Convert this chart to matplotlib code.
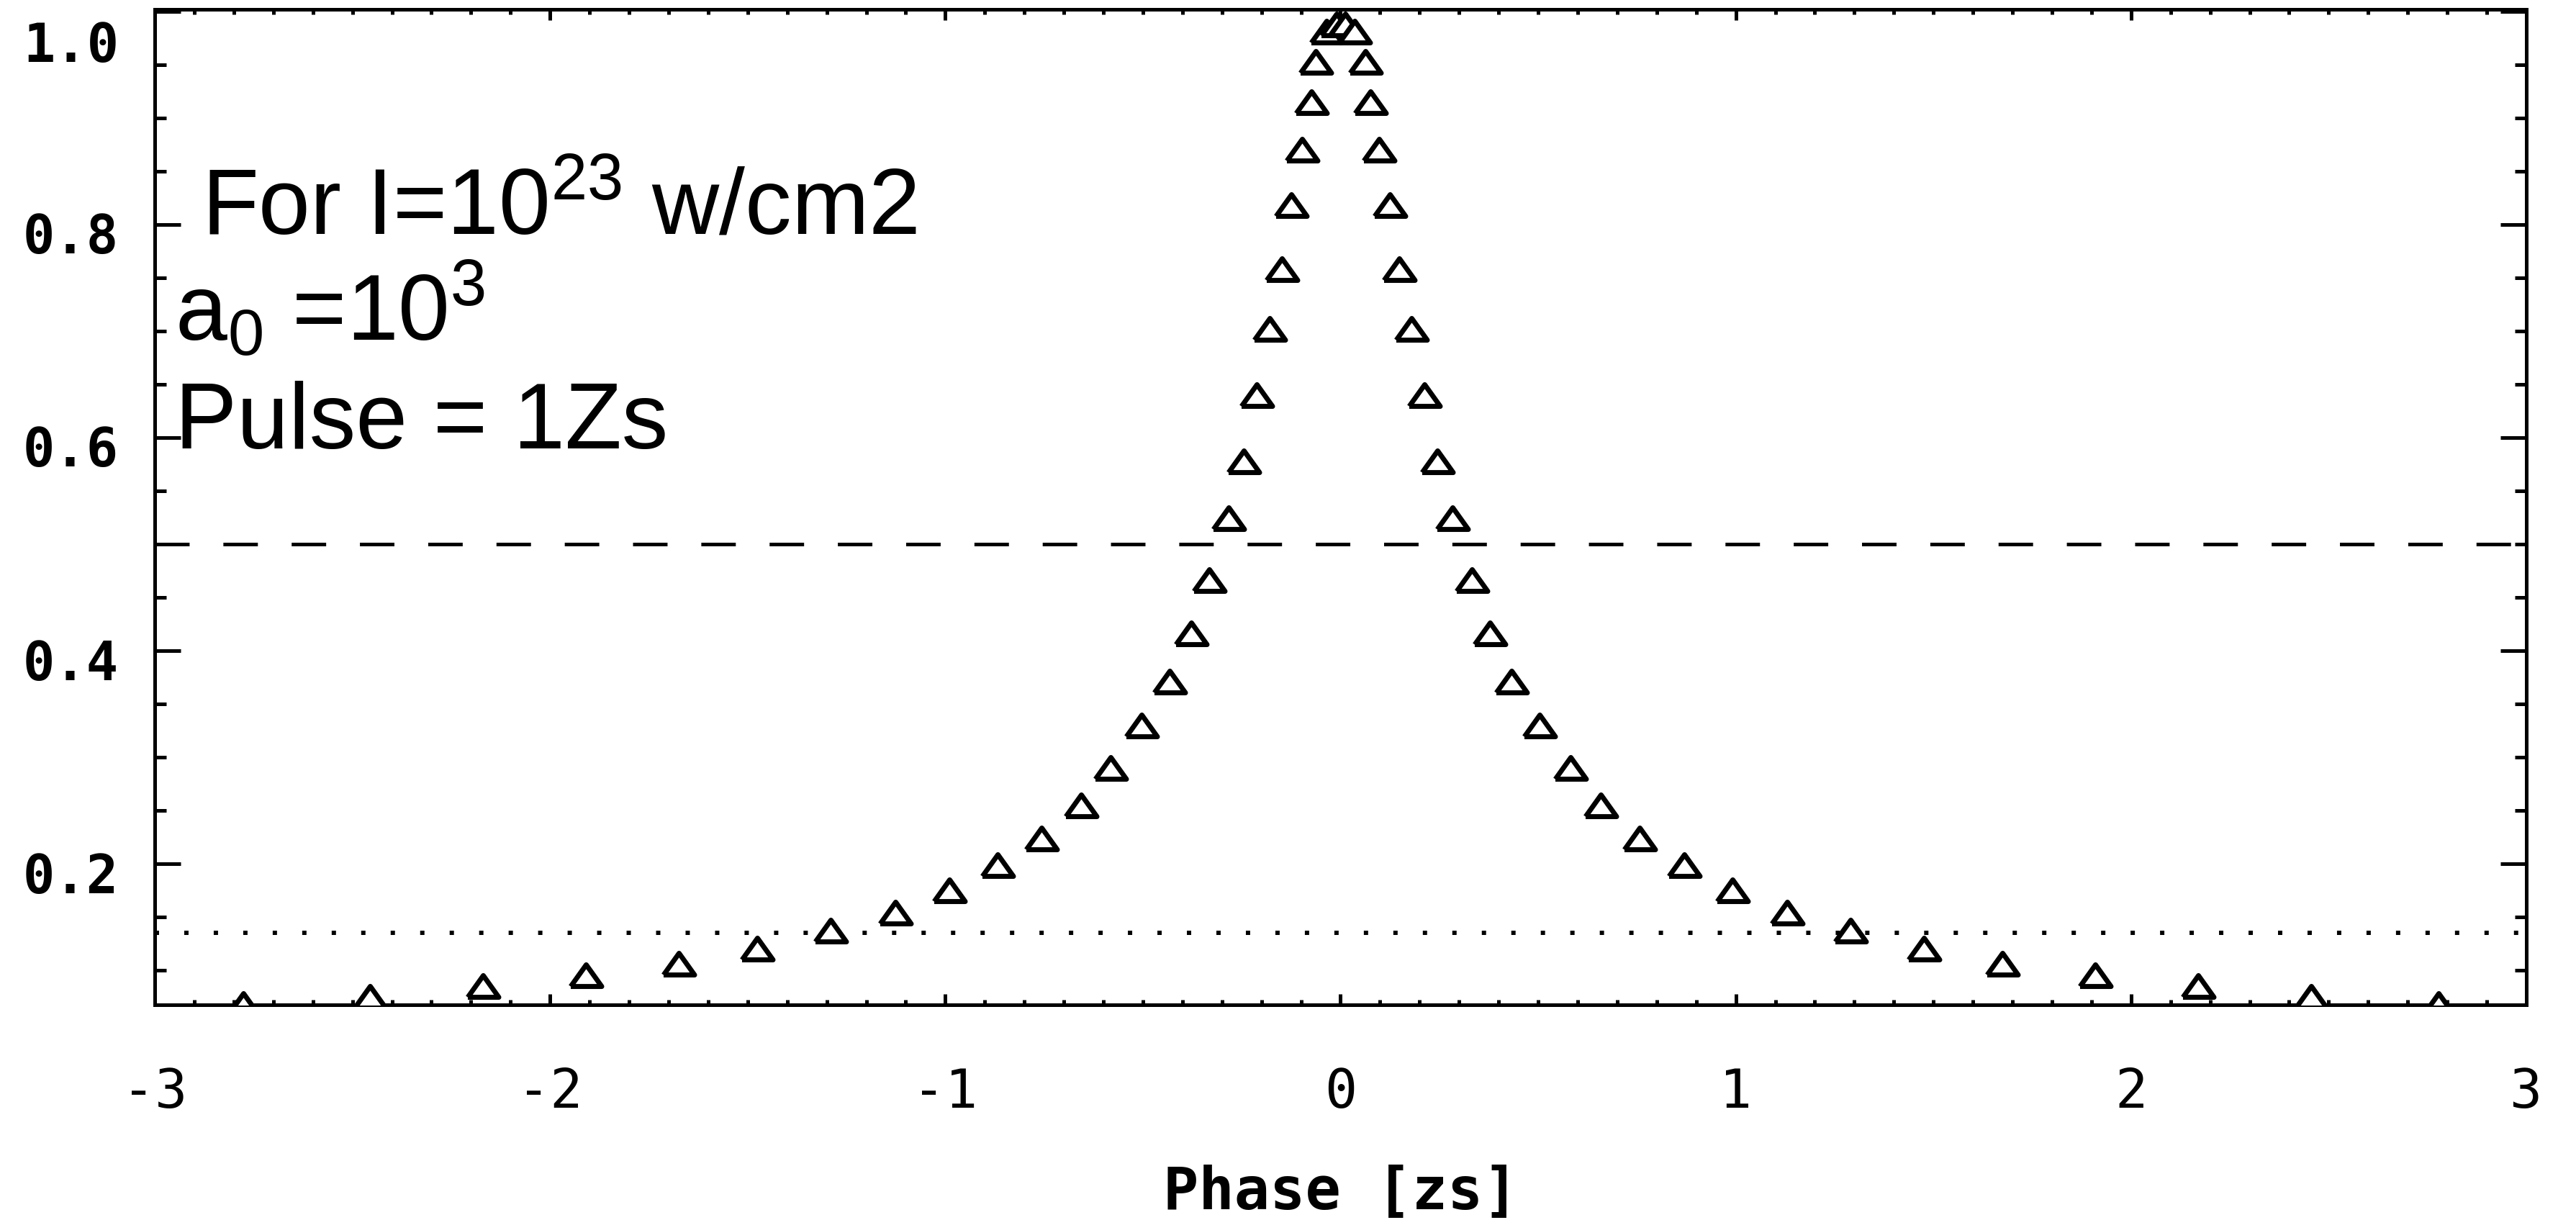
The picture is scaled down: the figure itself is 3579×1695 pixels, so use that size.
import matplotlib
matplotlib.use("Agg")
import matplotlib.pyplot as plt
from matplotlib.ticker import MultipleLocator
from matplotlib.transforms import ScaledTranslation

plt.rcParams['axes.unicode_minus'] = False
plt.rcParams['mathtext.default'] = 'regular'
plt.rcParams['lines.scale_dashes'] = False

# data (phase in zs, normalised intensity)
phase = [-2.776, -2.456, -2.170, -1.909, -1.674, -1.476, -1.290, -1.127,
         -0.990, -0.868, -0.757, -0.657, -0.582, -0.503, -0.432, -0.378,
         -0.332, -0.283, -0.245, -0.212, -0.179, -0.149, -0.124, -0.098,
         -0.074, -0.062, -0.036, -0.010,
         0.012, 0.036, 0.062, 0.075, 0.098, 0.124, 0.149, 0.179,
         0.212, 0.245, 0.283, 0.332, 0.378, 0.432, 0.503, 0.582,
         0.659, 0.757, 0.870, 0.991, 1.129, 1.290, 1.476, 1.674,
         1.909, 2.170, 2.456, 2.778]
intensity = [0.068, 0.075, 0.085, 0.095, 0.106, 0.120, 0.137, 0.154,
             0.175, 0.199, 0.224, 0.255, 0.290, 0.330, 0.371, 0.416,
             0.466, 0.524, 0.578, 0.640, 0.702, 0.758, 0.818, 0.870,
             0.915, 0.953, 0.981, 0.988,
             0.988, 0.981, 0.953, 0.915, 0.870, 0.818, 0.758, 0.702,
             0.640, 0.578, 0.524, 0.466, 0.416, 0.371, 0.330, 0.290,
             0.255, 0.224, 0.199, 0.175, 0.154, 0.137, 0.120, 0.106,
             0.095, 0.085, 0.075, 0.068]

half_max = 0.5
e2_level = 0.1353

xticks = [-3, -2, -1, 0, 1, 2, 3]
xtick_labels = ['-3', '-2', '-1', '0', '1', '2', '3']
yticks = [0.2, 0.4, 0.6, 0.8, 1.0]
ytick_labels = ['0.2', '0.4', '0.6', '0.8', '1.0']

W, H = 3579, 1695
fig = plt.figure(figsize=(W / 100, H / 100), dpi=100)
ax = fig.add_axes([215 / W, 299 / H, 3295 / W, 1383 / H])

# flat open triangle like the IDL symbol
tri = [(-1, -0.7), (1, -0.7), (0, 0.7), (-1, -0.7)]
ax.plot(phase, intensity, linestyle='none', marker=tri, ms=31,
        mfc='white', mec='black', mew=5, zorder=3)

ax.axhline(half_max, color='black', lw=3.6, linestyle=(0, (34.5, 33.8)), zorder=2)
ax.axhline(e2_level, color='black', lw=4.3, linestyle=(0, (4.3, 25.2)), zorder=2)

ax.set_xlim(-3, 3)
ax.set_ylim(0.0676, 1.002)

for s in ax.spines.values():
    s.set_linewidth(3.6)

ax.set_xticks(xticks)
ax.set_xticklabels(xtick_labels)
ax.set_yticks(yticks)
ax.set_yticklabels(ytick_labels)
ax.xaxis.set_minor_locator(MultipleLocator(0.1))
ax.yaxis.set_minor_locator(MultipleLocator(0.05))

ax.tick_params(which='both', direction='in', top=True, right=True, width=3.6)
ax.tick_params(axis='x', which='major', length=11, pad=62, labelsize=54)
ax.tick_params(axis='x', which='minor', length=5)
ax.tick_params(axis='y', which='major', length=26, pad=36, labelsize=53)
ax.tick_params(axis='y', which='minor', length=11.5)

for lab in ax.get_xticklabels():
    lab.set_family('DejaVu Sans Mono')
for lab in ax.get_yticklabels():
    lab.set_family('DejaVu Sans Mono')
    lab.set_fontweight('bold')

# y labels sit a little below their ticks, 1.0 pushed inside the frame
for lab in ax.get_yticklabels():
    dy = 42 if lab.get_text() == '1.0' else 12
    lab.set_transform(lab.get_transform() + ScaledTranslation(0, -dy / 100, fig.dpi_scale_trans))

ax.set_xlabel('Phase [zs]', fontsize=59, fontweight='bold', family='DejaVu Sans Mono')
ax.xaxis.set_label_coords(0.5, (15 - 299) / 1383)
ax.xaxis.label.set_va('baseline')

txt = dict(fontsize=93, family='Liberation Sans', va='baseline', ha='left')
fig.text(280 / W, 1 - 325 / H, 'For I=10$^{23}$ w/cm2', **txt)
fig.text(243 / W, 1 - 473 / H, 'a$_0$ =10$^3$', **txt)
fig.text(243 / W, 1 - 623 / H, 'Pulse = 1Zs', **txt)

fig.savefig('out.png', dpi=100)
